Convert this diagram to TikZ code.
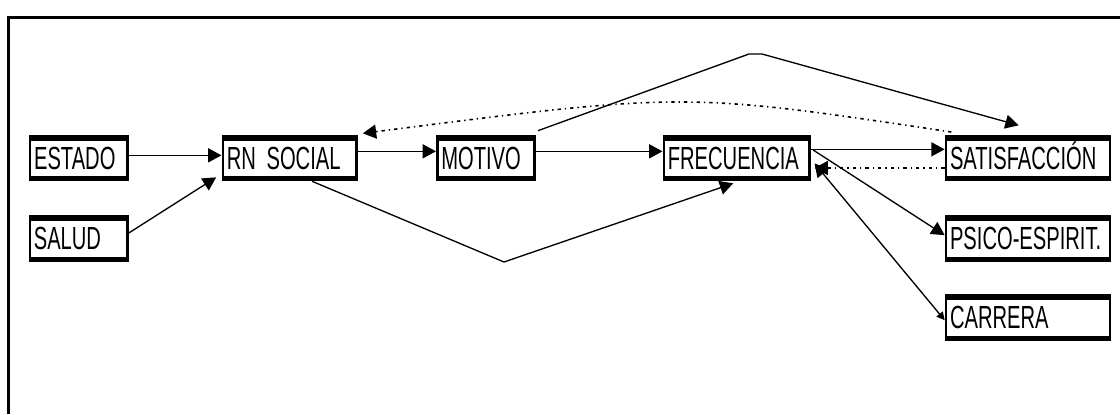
\documentclass[tikz,border=0pt]{standalone}
\usepackage{fontspec}
\newfontfamily\estrecha{Liberation Sans}[FakeStretch=0.63]
\usetikzlibrary{arrows.meta}
\tikzset{
	caja/.style={draw,line width=2pt,minimum height=33pt,inner xsep=3pt,inner ysep=0pt,
		text height=16.5pt,text depth=0pt,align=left,font=\estrecha\fontsize{24}{27}\selectfont,
		path picture={\fill (path picture bounding box.north west) rectangle ([yshift=-3.5pt]path picture bounding box.north east);
			\fill (path picture bounding box.south west) rectangle ([yshift=3pt]path picture bounding box.south east);}},
	flecha/.style={line width=1pt,-{Triangle[length=10pt,width=10.5pt]}},
	punteada/.style={flecha,line width=1.2pt,dash pattern=on 2.5pt off 3pt on 1pt off 3pt}
}
\begin{document}
\begin{tikzpicture}[x=0.75pt,y=-0.75pt]
	\useasboundingbox (0,0) rectangle (1120,414);
	\draw[line width=2.25pt] (8.5,414) -- (8.5,17) -- (1120,17);
	\node[caja,text width=67pt] (estado) at (78.75,158) {ESTADO};
	\node[caja,text width=67pt] (salud) at (78.5,238.5) {SALUD};
	\node[caja,text width=94pt] (rnsocial) at (289.5,158) {RN SOCIAL};
	\node[caja,text width=67pt] (motivo) at (486,158) {MOTIVO};
	\node[caja,text width=103pt] (frecuencia) at (736.5,158) {FRECUENCIA};
	\node[caja,text width=117pt] (satisfaccion) at (1028,158) {SATISFACCIÓN};
	\node[caja,text width=117pt] (psico) at (1028,238.5) {PSICO-ESPIRIT.};
	\node[caja,text width=117pt] (carrera) at (1028,317.5) {CARRERA};
	\coordinate (valle) at (504,262);
	\coordinate (cima1) at (749,54);
	\coordinate (cima2) at (762,54);
	\draw[flecha] ([yshift=2pt]estado.east) -- ([yshift=2pt]rnsocial.west);
	\draw[flecha] ([yshift=4pt]salud.east) -- ([shift={(-4pt,3pt)}]rnsocial.south west);
	\draw[flecha] ([yshift=5pt]rnsocial.east) -- ([yshift=5pt]motivo.west);
	\draw[flecha] ([yshift=5pt]motivo.east) -- ([yshift=5pt]frecuencia.west);
	\draw[flecha] ([yshift=6.5pt]frecuencia.east) -- ([yshift=6.5pt]satisfaccion.west);
	\draw[flecha] ([xshift=17pt]rnsocial.south) -- (valle) -- ([shift={(-2.5pt,-1.5pt)}]frecuencia.south);
	\draw[flecha] ([shift={(1.5pt,3pt)}]motivo.north east) -- (cima1) -- (cima2) -- ([shift={(-7pt,7pt)}]satisfaccion.north);
	\draw[punteada] ([shift={(5pt,2pt)}]satisfaccion.north west) .. controls (685,92) .. ([shift={(4pt,1pt)}]rnsocial.north east);
	\draw[punteada] ([yshift=-7.5pt]satisfaccion.west) -- ([shift={(3pt,-7.5pt)}]frecuencia.east);
	\draw[flecha] ([shift={(2pt,6pt)}]frecuencia.east) -- ([yshift=2.5pt]psico.west);
	\draw[flecha,{Triangle[length=6pt,width=6pt]}-{Triangle[length=10pt,width=10.5pt]}] ([yshift=-2pt]carrera.west) -- ([shift={(3pt,-4pt)}]frecuencia.east);
\end{tikzpicture}
\end{document}
